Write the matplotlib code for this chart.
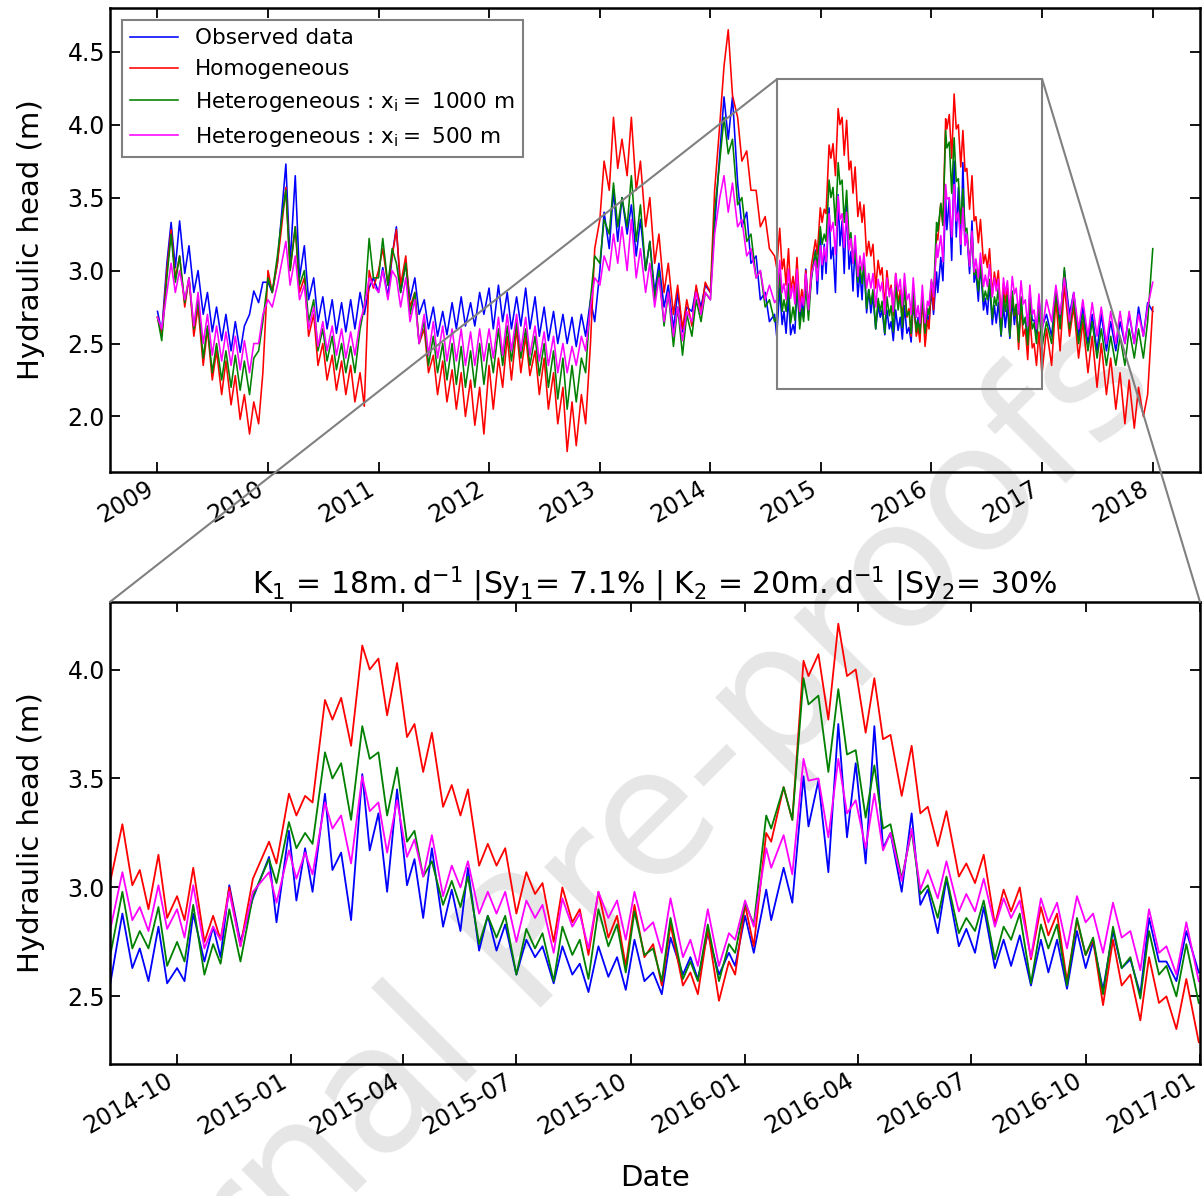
import numpy as np
import pandas as pd
import matplotlib
matplotlib.use('Agg')
import matplotlib.pyplot as plt
import matplotlib.dates as mdates
from matplotlib.patches import Rectangle, ConnectionPatch

# ---- long record, read twice a month (1st and 15th), 2009-01 -> 2014-08
dates_a = pd.date_range('2009-01-01', '2014-08-01', freq='SMS')
obs_a = [2.72, 2.58, 3.05, 3.33, 3.02, 3.34, 2.98, 3.17, 2.85, 3.00, 2.70, 2.85, 2.58, 2.75, 2.52, 2.70, 2.45, 2.65, 2.44, 2.62, 2.70, 2.86, 2.78, 2.92,
         2.92, 2.85, 3.05, 3.39, 3.73, 3.05, 3.65, 2.95, 3.17, 2.80, 2.95, 2.65, 2.82, 2.60, 2.80, 2.57, 2.78, 2.58, 2.80, 2.60, 2.85, 2.70, 2.88, 2.95,
         2.85, 3.02, 2.82, 3.10, 3.30, 2.85, 3.05, 2.80, 2.95, 2.70, 2.80, 2.60, 2.75, 2.55, 2.72, 2.56, 2.78, 2.60, 2.82, 2.62, 2.78, 2.62, 2.85, 2.70,
         2.88, 2.60, 2.90, 2.65, 2.85, 2.60, 2.82, 2.62, 2.88, 2.60, 2.82, 2.55, 2.75, 2.52, 2.72, 2.50, 2.70, 2.50, 2.68, 2.48, 2.70, 2.55, 2.80, 2.65,
         3.00, 3.40, 3.15, 3.55, 3.20, 3.50, 3.25, 3.45, 3.10, 3.35, 3.00, 3.20, 2.85, 3.05, 2.75, 2.90, 2.60, 2.85, 2.58, 2.75, 2.72, 2.88, 2.75, 2.90,
         2.85, 3.30, 3.80, 4.19, 3.90, 4.19, 3.60, 3.30, 3.40, 3.05, 3.10, 2.80, 2.85, 2.65, 2.70]
hom_a = [2.68, 2.55, 3.00, 3.28, 2.95, 3.10, 2.75, 2.95, 2.55, 2.75, 2.35, 2.60, 2.25, 2.45, 2.15, 2.38, 2.08, 2.28, 1.98, 2.15, 1.88, 2.10, 1.95, 2.30,
         3.00, 2.85, 3.05, 3.30, 3.57, 3.00, 3.30, 2.85, 2.95, 2.55, 2.70, 2.35, 2.50, 2.25, 2.42, 2.18, 2.38, 2.15, 2.35, 2.10, 2.30, 2.07, 3.00, 2.88,
         3.00, 3.15, 2.90, 3.10, 3.28, 2.90, 3.10, 2.75, 2.85, 2.50, 2.60, 2.30, 2.42, 2.15, 2.38, 2.10, 2.32, 2.05, 2.30, 2.00, 2.25, 1.94, 2.20, 1.88,
         2.35, 2.05, 2.40, 2.20, 2.55, 2.25, 2.60, 2.30, 2.55, 2.28, 2.45, 2.15, 2.40, 2.05, 2.30, 1.95, 2.20, 1.76, 2.10, 1.80, 2.15, 1.95, 2.50, 3.15,
         3.35, 3.75, 3.55, 4.05, 3.70, 3.90, 3.65, 4.05, 3.55, 3.75, 3.30, 3.50, 3.05, 3.25, 2.85, 3.05, 2.70, 2.90, 2.60, 2.80, 2.62, 2.90, 2.70, 2.92,
         2.85, 3.55, 4.00, 4.40, 4.65, 4.20, 4.05, 3.75, 3.82, 3.55, 3.55, 3.30, 3.37, 3.15, 3.10]
het1000_a = [2.68, 2.52, 2.95, 3.25, 2.92, 3.10, 2.78, 2.95, 2.60, 2.80, 2.40, 2.62, 2.30, 2.50, 2.25, 2.45, 2.20, 2.42, 2.18, 2.38, 2.15, 2.40, 2.45, 2.65,
             2.95, 2.85, 3.10, 3.35, 3.55, 3.00, 3.30, 2.90, 3.00, 2.65, 2.80, 2.45, 2.60, 2.38, 2.55, 2.32, 2.50, 2.30, 2.48, 2.30, 2.60, 2.75, 3.22, 2.95,
             2.95, 3.22, 2.90, 3.15, 3.05, 2.85, 3.05, 2.70, 2.85, 2.50, 2.65, 2.35, 2.55, 2.30, 2.50, 2.25, 2.50, 2.22, 2.48, 2.20, 2.45, 2.20, 2.50, 2.22,
             2.50, 2.30, 2.60, 2.35, 2.62, 2.38, 2.65, 2.40, 2.60, 2.35, 2.55, 2.28, 2.50, 2.20, 2.45, 2.12, 2.40, 2.05, 2.35, 2.10, 2.40, 2.30, 2.80, 3.10,
             3.05, 3.35, 3.25, 3.60, 3.30, 3.50, 3.30, 3.65, 3.20, 3.45, 3.00, 3.20, 2.80, 3.00, 2.62, 2.85, 2.48, 2.75, 2.42, 2.70, 2.55, 2.80, 2.65, 2.85,
             2.80, 3.40, 3.75, 4.05, 3.80, 3.90, 3.45, 3.50, 3.20, 3.25, 2.95, 3.00, 2.75, 2.80, 2.65]
het500_a = [2.68, 2.60, 2.85, 3.05, 2.85, 3.00, 2.80, 2.95, 2.62, 2.85, 2.50, 2.70, 2.42, 2.62, 2.38, 2.58, 2.35, 2.55, 2.32, 2.52, 2.30, 2.50, 2.50, 2.70,
            2.80, 2.75, 2.90, 3.05, 3.20, 2.90, 3.10, 2.80, 2.90, 2.60, 2.75, 2.48, 2.65, 2.45, 2.62, 2.42, 2.60, 2.40, 2.58, 2.42, 2.65, 2.75, 2.95, 2.90,
            2.85, 3.00, 2.80, 3.00, 2.95, 2.75, 2.95, 2.65, 2.80, 2.50, 2.70, 2.42, 2.65, 2.40, 2.62, 2.38, 2.60, 2.38, 2.60, 2.35, 2.58, 2.35, 2.60, 2.38,
            2.60, 2.40, 2.68, 2.42, 2.70, 2.45, 2.70, 2.45, 2.68, 2.42, 2.62, 2.38, 2.58, 2.35, 2.55, 2.30, 2.50, 2.30, 2.48, 2.35, 2.55, 2.45, 2.75, 2.95,
            2.90, 3.10, 3.00, 3.25, 3.05, 3.30, 3.00, 3.35, 2.95, 3.15, 2.85, 3.05, 2.75, 2.95, 2.65, 2.85, 2.55, 2.75, 2.52, 2.72, 2.65, 2.85, 2.70, 2.85,
            2.80, 3.25, 3.50, 3.65, 3.40, 3.60, 3.30, 3.35, 3.10, 3.15, 2.95, 3.00, 2.80, 2.90, 2.78]

# ---- zoom window, peaks and troughs (days after 2014-08-08)
zoom_start = pd.Timestamp('2014-08-08')
zoom_end = pd.Timestamp('2017-01-01')
zoom_days = [0, 10, 18, 24, 31, 39, 46, 54, 60, 67, 76, 83, 89, 96, 105, 115, 128, 134, 144, 150,
             157, 163, 173, 179, 186, 194, 203, 209, 216, 223, 231, 239, 245, 252, 259, 268, 275, 282, 288, 297,
             304, 311, 318, 327, 335, 342, 348, 357, 364, 372, 378, 385, 393, 401, 408, 415, 422, 430, 437, 444,
             451, 461, 467, 473, 481, 490, 498, 503, 511, 518, 528, 532, 542, 549, 558, 562, 570, 578, 586, 593,
             600, 608, 615, 622, 628, 637, 645, 652, 658, 666, 673, 683, 689, 696, 703, 712, 719, 725, 732, 741,
             749, 755, 762, 770, 778, 785, 791, 799, 807, 814, 821, 829, 836, 844, 850, 858, 866, 876]
obs_z = [2.55, 2.88, 2.63, 2.72, 2.57, 2.82, 2.56, 2.63, 2.57, 2.88, 2.66, 2.82, 2.68, 3.01, 2.75, 2.95, 3.14, 2.84, 3.26, 2.94,
         3.18, 2.98, 3.43, 3.08, 3.16, 2.85, 3.52, 3.17, 3.34, 2.98, 3.45, 3.01, 3.13, 2.86, 3.18, 2.82, 2.99, 2.80, 3.09, 2.71,
         2.87, 2.71, 2.83, 2.60, 2.76, 2.68, 2.73, 2.56, 2.73, 2.60, 2.65, 2.52, 2.73, 2.59, 2.68, 2.53, 2.76, 2.57, 2.61, 2.51,
         2.77, 2.60, 2.68, 2.58, 2.79, 2.60, 2.70, 2.64, 2.87, 2.70, 2.99, 2.85, 3.09, 2.93, 3.51, 3.28, 3.49, 3.07, 3.75, 3.23,
         3.57, 3.11, 3.74, 3.18, 3.25, 2.98, 3.34, 2.92, 2.99, 2.79, 3.04, 2.73, 2.81, 2.70, 2.91, 2.63, 2.76, 2.64, 2.78, 2.55,
         2.76, 2.61, 2.76, 2.535, 2.80, 2.63, 2.75, 2.53, 2.80, 2.63, 2.67, 2.51, 2.86, 2.66, 2.66, 2.57, 2.80, 2.61]
hom_z = [3.02, 3.29, 3.01, 3.08, 2.90, 3.15, 2.86, 2.96, 2.85, 3.09, 2.75, 2.87, 2.76, 3.00, 2.73, 3.04, 3.21, 3.11, 3.43, 3.33,
         3.42, 3.39, 3.86, 3.77, 3.87, 3.65, 4.11, 4.00, 4.05, 3.79, 4.03, 3.69, 3.75, 3.53, 3.71, 3.37, 3.47, 3.33, 3.45, 3.10,
         3.20, 3.10, 3.18, 2.88, 3.07, 2.97, 3.02, 2.75, 3.00, 2.84, 2.90, 2.69, 2.98, 2.77, 2.87, 2.64, 2.92, 2.68, 2.74, 2.55,
         2.83, 2.55, 2.61, 2.51, 2.81, 2.48, 2.66, 2.60, 2.92, 2.73, 3.25, 3.21, 3.46, 3.31, 4.04, 3.97, 4.07, 3.77, 4.21, 3.97,
         4.00, 3.71, 3.96, 3.68, 3.70, 3.42, 3.65, 3.34, 3.37, 3.19, 3.35, 3.05, 3.11, 3.02, 3.15, 2.83, 2.99, 2.89, 3.00, 2.67,
         2.91, 2.78, 2.88, 2.57, 2.85, 2.69, 2.76, 2.46, 2.76, 2.55, 2.60, 2.39, 2.68, 2.47, 2.50, 2.35, 2.58, 2.29]
het1000_z = [2.68, 2.98, 2.72, 2.80, 2.72, 2.91, 2.64, 2.75, 2.66, 2.92, 2.60, 2.74, 2.65, 2.90, 2.66, 2.96, 3.13, 3.02, 3.30, 3.18,
             3.25, 3.20, 3.62, 3.50, 3.57, 3.31, 3.74, 3.59, 3.62, 3.33, 3.55, 3.21, 3.26, 3.05, 3.12, 2.92, 3.03, 2.91, 3.05, 2.74,
             2.87, 2.77, 2.87, 2.60, 2.81, 2.72, 2.79, 2.57, 2.82, 2.69, 2.76, 2.58, 2.90, 2.73, 2.83, 2.61, 2.89, 2.69, 2.72, 2.57,
             2.86, 2.58, 2.66, 2.57, 2.83, 2.57, 2.74, 2.70, 2.93, 2.83, 3.33, 3.27, 3.46, 3.31, 3.96, 3.84, 3.88, 3.53, 3.91, 3.61,
             3.63, 3.32, 3.56, 3.27, 3.29, 3.04, 3.26, 2.97, 3.01, 2.86, 3.05, 2.79, 2.86, 2.80, 2.94, 2.67, 2.82, 2.76, 2.88, 2.56,
             2.83, 2.72, 2.83, 2.55, 2.86, 2.69, 2.77, 2.51, 2.82, 2.63, 2.68, 2.49, 2.80, 2.60, 2.64, 2.50, 2.74, 2.47]
het500_z = [2.80, 3.07, 2.85, 2.91, 2.80, 3.01, 2.81, 2.90, 2.77, 3.01, 2.72, 2.82, 2.76, 2.98, 2.73, 2.98, 3.07, 2.93, 3.17, 3.04,
            3.16, 3.06, 3.39, 3.27, 3.33, 3.11, 3.51, 3.35, 3.39, 3.16, 3.40, 3.14, 3.22, 3.05, 3.24, 2.96, 3.10, 3.00, 3.12, 2.88,
            2.98, 2.88, 2.98, 2.75, 2.94, 2.86, 2.92, 2.70, 2.95, 2.82, 2.88, 2.72, 2.98, 2.86, 2.94, 2.76, 2.98, 2.80, 2.84, 2.70,
            2.95, 2.68, 2.76, 2.64, 2.90, 2.64, 2.79, 2.76, 2.94, 2.82, 3.18, 3.09, 3.24, 3.06, 3.59, 3.49, 3.50, 3.23, 3.59, 3.34,
            3.40, 3.18, 3.43, 3.17, 3.25, 3.03, 3.27, 2.99, 3.08, 2.95, 3.12, 2.89, 2.97, 2.89, 3.04, 2.82, 2.95, 2.86, 2.94, 2.68,
            2.95, 2.84, 2.93, 2.72, 2.96, 2.84, 2.88, 2.70, 2.93, 2.77, 2.80, 2.62, 2.90, 2.70, 2.73, 2.60, 2.84, 2.57]

# ---- 2017, twice a month again
dates_c = pd.date_range('2017-01-15', '2018-01-01', freq='SMS')
obs_c = [2.70, 2.55, 2.85, 2.65, 3.00, 2.70, 2.85, 2.55, 2.75, 2.50, 2.70, 2.45, 2.70, 2.45, 2.65, 2.45, 2.65, 2.50, 2.70, 2.50, 2.75, 2.55, 2.78, 2.72]
hom_c = [2.60, 2.35, 2.80, 2.45, 2.90, 2.55, 2.75, 2.40, 2.65, 2.30, 2.55, 2.20, 2.50, 2.15, 2.40, 2.05, 2.30, 1.95, 2.25, 1.92, 2.20, 2.00, 2.15, 2.75]
het1000_c = [2.65, 2.50, 2.85, 2.60, 3.02, 2.60, 2.80, 2.50, 2.70, 2.45, 2.65, 2.40, 2.60, 2.35, 2.55, 2.35, 2.55, 2.35, 2.60, 2.40, 2.60, 2.40, 2.65, 3.15]
het500_c = [2.80, 2.65, 2.90, 2.70, 2.95, 2.65, 2.85, 2.60, 2.80, 2.55, 2.78, 2.55, 2.75, 2.50, 2.72, 2.50, 2.72, 2.50, 2.72, 2.50, 2.70, 2.55, 2.75, 2.92]

labels = ['Observed data', 'Homogeneous',
          r'Heterogeneous : $\mathrm{x_i =}$ 1000 m',
          r'Heterogeneous : $\mathrm{x_i =}$ 500 m']
colors = ['#0000ff', '#ff0000', '#008000', '#ff00ff']

# build the series
zoom_dates = zoom_start + pd.to_timedelta(zoom_days, unit='D')
all_dates = np.concatenate([dates_a.values, zoom_dates.values, dates_c.values])
series_all = [np.concatenate([a, z, c]) for a, z, c in
              [(obs_a, obs_z, obs_c), (hom_a, hom_z, hom_c),
               (het1000_a, het1000_z, het1000_c), (het500_a, het500_z, het500_c)]]
series_zoom = [obs_z, hom_z, het1000_z, het500_z]

fig = plt.figure(figsize=(12.03, 11.96), dpi=100)
fig.patch.set_facecolor('white')

# watermark behind the plots
fig.text(0.481, 0.238, 'Journal Pre-proofs', rotation=45, fontsize=127,
         color='#e6e6e6', ha='center', va='center', zorder=-5)

ax1 = fig.add_axes([0.0914, 0.6054, 0.9061, 0.3880])
ax2 = fig.add_axes([0.0914, 0.1104, 0.9061, 0.3863])

for y, lab, c in zip(series_all, labels, colors):
    ax1.plot(all_dates, y, color=c, lw=1.15, label=lab)
for y, c in zip(series_zoom, colors):
    ax2.plot(zoom_dates, y, color=c, lw=1.3)

ax1.set_ylim(1.62, 4.80)
ax1.set_xlim(pd.Timestamp('2008-07-28'), pd.Timestamp('2018-06-06'))
ax2.set_ylim(2.19, 4.31)
ax2.set_xlim(zoom_start, zoom_end)

ax1.xaxis.set_major_locator(mdates.YearLocator())
ax1.xaxis.set_major_formatter(mdates.DateFormatter('%Y'))
ax2.xaxis.set_major_locator(mdates.MonthLocator(bymonth=[1, 4, 7, 10]))
ax2.xaxis.set_major_formatter(mdates.DateFormatter('%Y-%m'))
ax1.set_yticks([2.0, 2.5, 3.0, 3.5, 4.0, 4.5])
ax2.set_yticks([2.5, 3.0, 3.5, 4.0])

for ax in (ax1, ax2):
    ax.patch.set_alpha(0)
    ax.tick_params(direction='in', top=True, right=True, length=7, width=1.3, labelsize=17)
    for s in ax.spines.values():
        s.set_linewidth(1.8)
    ax.yaxis.set_major_formatter(matplotlib.ticker.FormatStrFormatter('%.1f'))
    plt.setp(ax.get_xticklabels(), rotation=30, ha='right')
    ax.set_ylabel('Hydraulic head (m)', fontsize=21, labelpad=16)

ax2.set_xlabel('Date', fontsize=21, labelpad=18)
ax2.set_title(r'$\mathrm{K_1}$ = 18$\mathrm{m.d^{-1}}$ |$\mathrm{Sy_1}$= 7.1% | '
              r'$\mathrm{K_2}$ = 20$\mathrm{m.d^{-1}}$ |$\mathrm{Sy_2}$= 30%', fontsize=21.5)

leg = ax1.legend(loc='upper left', fontsize=15.5, fancybox=False, framealpha=1,
                 edgecolor='0.5', handlelength=2.2, borderaxespad=0.55)
leg.get_frame().set_linewidth(1.5)

# zoom box and connectors
x0 = mdates.date2num(zoom_start)
x1 = mdates.date2num(zoom_end)
ax1.add_patch(Rectangle((x0, 2.19), x1 - x0, 4.31 - 2.19, fill=False,
                        ec='0.5', lw=1.5, zorder=5))
for xa, xb in [(x0, 0), (x1, 1)]:
    con = ConnectionPatch(xyA=(xa, 4.31), coordsA=ax1.transData,
                          xyB=(xb, 1), coordsB=ax2.transAxes,
                          color='0.5', lw=1.5)
    fig.add_artist(con)

fig.savefig('out.png', dpi=100)
